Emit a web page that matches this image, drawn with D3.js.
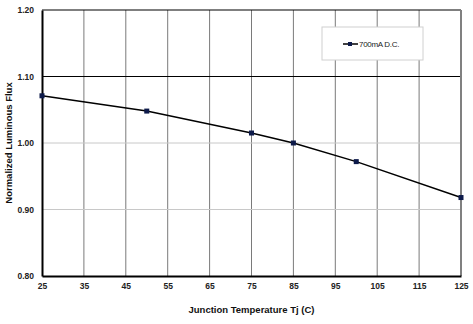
<!DOCTYPE html>
<html><head><meta charset="utf-8">
<script src="https://cdn.jsdelivr.net/npm/d3@7"></script>
<style>body{margin:0;background:#fff;}svg{display:block;font-family:"Liberation Sans",Arial,sans-serif;}</style>
</head><body><svg id="c" width="473" height="324"></svg>
<script>
const temps = [25, 50, 75, 85, 100, 125];
const flux = [1.071, 1.048, 1.015, 1.000, 0.972, 0.918];
const xTicks = [25, 35, 45, 55, 65, 75, 85, 95, 105, 115, 125];
const yTicks = [0.80, 0.90, 1.00, 1.10, 1.20];
const seriesName = "700mA D.C.";
const xTitle = "Junction Temperature Tj (C)";
const yTitle = "Normalized Luminous Flux";

const svg = d3.select("#c");
const L = 42, R = 461, T = 10, B = 276;
const x = d3.scaleLinear().domain([25, 125]).range([L, R]);
const y = d3.scaleLinear().domain([0.80, 1.20]).range([B, T]);

svg.append("g").selectAll("line").data(xTicks.slice(1, -1)).join("line")
  .attr("x1", d => x(d)).attr("x2", d => x(d)).attr("y1", T).attr("y2", B)
  .attr("stroke", "#7a7a7a").attr("stroke-width", 1);
svg.append("g").selectAll("line").data([0.90, 1.00]).join("line")
  .attr("x1", L).attr("x2", R).attr("y1", d => y(d)).attr("y2", d => y(d))
  .attr("stroke", "#c8c8c8").attr("stroke-width", 1);
svg.append("line").attr("x1", L).attr("x2", R).attr("y1", y(1.10)).attr("y2", y(1.10))
  .attr("stroke", "#000").attr("stroke-width", 1.2);
svg.append("line").attr("x1", L).attr("x2", R).attr("y1", T).attr("y2", T).attr("stroke", "#000").attr("stroke-width", 1.2);
svg.append("line").attr("x1", R).attr("x2", R).attr("y1", T).attr("y2", B).attr("stroke", "#808080").attr("stroke-width", 2);

const xAxis = svg.append("g").attr("transform", `translate(0,${B})`)
  .call(d3.axisBottom(x).tickValues(xTicks).tickSize(0).tickPadding(7).tickFormat(d3.format("d")));
xAxis.select(".domain").attr("stroke", "#000").attr("stroke-width", 2);
const yAxis = svg.append("g").attr("transform", `translate(${L},0)`)
  .call(d3.axisLeft(y).tickValues(yTicks).tickSize(0).tickPadding(8).tickFormat(d3.format(".2f")));
yAxis.select(".domain").attr("stroke", "#000").attr("stroke-width", 2);
svg.selectAll(".tick text").attr("font-size", 8.5).attr("font-weight", "bold")
  .attr("font-family", "Liberation Sans, Arial, sans-serif").attr("fill", "#222");

svg.append("path").datum(temps.map((t, i) => [t, flux[i]]))
  .attr("fill", "none").attr("stroke", "#000").attr("stroke-width", 1.5)
  .attr("d", d3.line().x(d => x(d[0])).y(d => y(d[1])));
svg.append("g").selectAll("rect").data(temps.map((t, i) => [t, flux[i]])).join("rect")
  .attr("x", d => x(d[0]) - 2.5).attr("y", d => y(d[1]) - 2.5).attr("width", 5).attr("height", 5)
  .attr("fill", "#0d1a4a");

const lg = svg.append("g");
lg.append("rect").attr("x", 322).attr("y", 27).attr("width", 101).attr("height", 33)
  .attr("fill", "#fff").attr("stroke", "#d0d0d0").attr("stroke-width", 1);
lg.append("line").attr("x1", 343).attr("x2", 358).attr("y1", 44).attr("y2", 44).attr("stroke", "#000").attr("stroke-width", 1.5);
lg.append("rect").attr("x", 348).attr("y", 42).attr("width", 4).attr("height", 4).attr("fill", "#0d1a4a");
lg.append("text").attr("x", 359).attr("y", 47).attr("font-size", 8).attr("fill", "#222")
  .attr("letter-spacing", "-0.3").text(seriesName);

svg.append("text").attr("x", (L + R) / 2).attr("y", 313).attr("text-anchor", "middle")
  .attr("font-size", 9.5).attr("font-weight", "bold").attr("fill", "#111").text(xTitle);
svg.append("text").attr("transform", `translate(12,${(T + B) / 2}) rotate(-90)`).attr("text-anchor", "middle")
  .attr("font-size", 9.5).attr("font-weight", "bold").attr("fill", "#111").text(yTitle);
</script></body></html>
